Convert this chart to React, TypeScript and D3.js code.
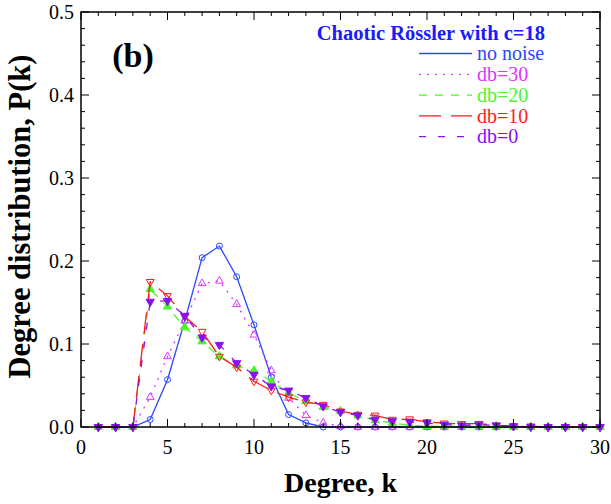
import React from "react";
import * as d3 from "d3";

const degrees = d3.range(1, 31);
const noNoise = [0, 0, 0, 0.009, 0.057, 0.128, 0.204, 0.218, 0.181, 0.123, 0.06, 0.015, 0.005, 0, 0, 0, 0, 0, 0, 0, 0, 0, 0, 0, 0, 0, 0, 0, 0, 0];
const db30 = [0, 0, 0, 0.036, 0.085, 0.128, 0.173, 0.176, 0.148, 0.111, 0.068, 0.035, 0.014, 0.005, 0.001, 0, 0, 0, 0, 0, 0, 0, 0, 0, 0, 0, 0, 0, 0, 0];
const db20 = [0, 0, 0, 0.166, 0.145, 0.12, 0.103, 0.085, 0.074, 0.068, 0.055, 0.041, 0.031, 0.024, 0.019, 0.014, 0.008, 0.005, 0.002, 0.0012, 0.001, 0.001, 0.001, 0.001, 0, 0, 0, 0, 0, 0];
const db10 = [0, 0, 0, 0.175, 0.158, 0.133, 0.115, 0.085, 0.072, 0.055, 0.044, 0.036, 0.03, 0.027, 0.019, 0.015, 0.014, 0.009, 0.0095, 0.006, 0.0045, 0.004, 0.004, 0.002, 0.001, 0.001, 0, 0, 0, 0];
const db0 = [0, 0, 0, 0.151, 0.152, 0.134, 0.108, 0.099, 0.077, 0.063, 0.049, 0.044, 0.035, 0.025, 0.018, 0.014, 0.009, 0.007, 0.006, 0.0048, 0.0028, 0.002, 0.0028, 0.002, 0.001, 0, 0, 0, 0, 0];

const seriesNames = ["no noise", "db=30", "db=20", "db=10", "db=0"];
const xTicks = [0, 5, 10, 15, 20, 25, 30];
const yTicks = [0, 0.1, 0.2, 0.3, 0.4, 0.5];

const W = 611, H = 504;
const left = 81, right = 600, top = 12, bottom = 427;

const styles = [
  { color: "#2a48ff", dash: "", symbol: "circle", fill: false },
  { color: "#dd33ff", dash: "2,6", symbol: "triangle", fill: false },
  { color: "#4cf52a", dash: "8,8", symbol: "triangle", fill: true },
  { color: "#ff1a1a", dash: "22,10", symbol: "triangleDown", fill: false },
  { color: "#8a10f0", dash: "7,12", symbol: "triangleDown", fill: true },
];

export default function App() {
  const x = d3.scaleLinear().domain([0, 30]).range([left, right]);
  const y = d3.scaleLinear().domain([0, 0.5]).range([bottom, top]);
  const all = [noNoise, db30, db20, db10, db0];
  const line = d3.line<number>().x((_, i) => x(degrees[i])).y((v) => y(v));
  const font = "'Liberation Serif', 'Times New Roman', serif";

  const marker = (s: typeof styles[number], cx: number, cy: number, key: string) => {
    if (s.symbol === "circle") {
      return <circle key={key} cx={cx} cy={cy} r={3} fill="none" stroke={s.color} strokeWidth={1} />;
    }
    const p = d3.symbol().type(d3.symbolTriangle).size(s.fill ? 30 : 26)()!;
    const rot = s.symbol === "triangleDown" ? 180 : 0;
    return (
      <path key={key} d={p} transform={`translate(${cx},${cy}) rotate(${rot})`}
        fill={s.fill ? s.color : "none"} stroke={s.color} strokeWidth={1} />
    );
  };

  const yMinor = d3.range(0, 0.5001, 0.02);
  const xMinor = d3.range(0, 31, 1);

  return (
    <svg width={W} height={H} style={{ position: "absolute", left: 0, top: 0, background: "white" }} fontFamily={font}>
      <rect x={0} y={0} width={W} height={H} fill="white" />
      {all.map((vals, si) => (
        <g key={si}>
          <path d={line(vals)!} fill="none" stroke={styles[si].color} strokeWidth={1.3} strokeDasharray={styles[si].dash} />
          {vals.map((v, i) => marker(styles[si], x(degrees[i]), y(v), `${si}-${i}`))}
        </g>
      ))}
      {yMinor.map((t, i) => {
        const major = Math.abs(t * 10 - Math.round(t * 10)) < 1e-6;
        const len = major ? 8 : 4;
        return (
          <g key={"y" + i} stroke="#000" strokeWidth={1}>
            <line x1={left} x2={left + len} y1={y(t)} y2={y(t)} />
            <line x1={right} x2={right - len} y1={y(t)} y2={y(t)} />
          </g>
        );
      })}
      {xMinor.map((t) => {
        const len = t % 5 === 0 ? 8 : 4;
        return (
          <g key={"x" + t} stroke="#000" strokeWidth={1}>
            <line x1={x(t)} x2={x(t)} y1={bottom} y2={bottom - len} />
            <line x1={x(t)} x2={x(t)} y1={top} y2={top + len} />
          </g>
        );
      })}
      <rect x={left} y={top} width={right - left} height={bottom - top} fill="none" stroke="#000" strokeWidth={1.5} />
      {yTicks.map((t) => (
        <text key={"yl" + t} x={left - 7} y={y(t)} dy="0.35em" textAnchor="end" fontSize={20}>{t.toFixed(1)}</text>
      ))}
      {xTicks.map((t) => (
        <text key={"xl" + t} x={x(t)} y={bottom + 27} textAnchor="middle" fontSize={20}>{t}</text>
      ))}
      <text x={(left + right) / 2} y={492} textAnchor="middle" fontSize={28} fontWeight="bold">Degree, k</text>
      <text transform={`translate(30,${(top + bottom) / 2 - 3}) rotate(-90)`} textAnchor="middle" fontSize={30.5} fontWeight="bold">Degree distribution, P(k)</text>
      <text x={133} y={67} textAnchor="middle" fontSize={34} fontWeight="bold">(b)</text>
      <text x={545} y={40} textAnchor="end" fontSize={20.5} fontWeight="bold" fill="#1a1aff">Chaotic Rössler with c=18</text>
      {seriesNames.map((n, i) => {
        const ly = 53.5 + i * 20.8;
        return (
          <g key={n}>
            <line x1={419} x2={472} y1={ly} y2={ly} stroke={styles[i].color} strokeWidth={1.3} strokeDasharray={styles[i].dash} />
            <text x={477} y={ly} dy="0.33em" fontSize={20} fill={styles[i].color}>{n}</text>
          </g>
        );
      })}
    </svg>
  );
}
